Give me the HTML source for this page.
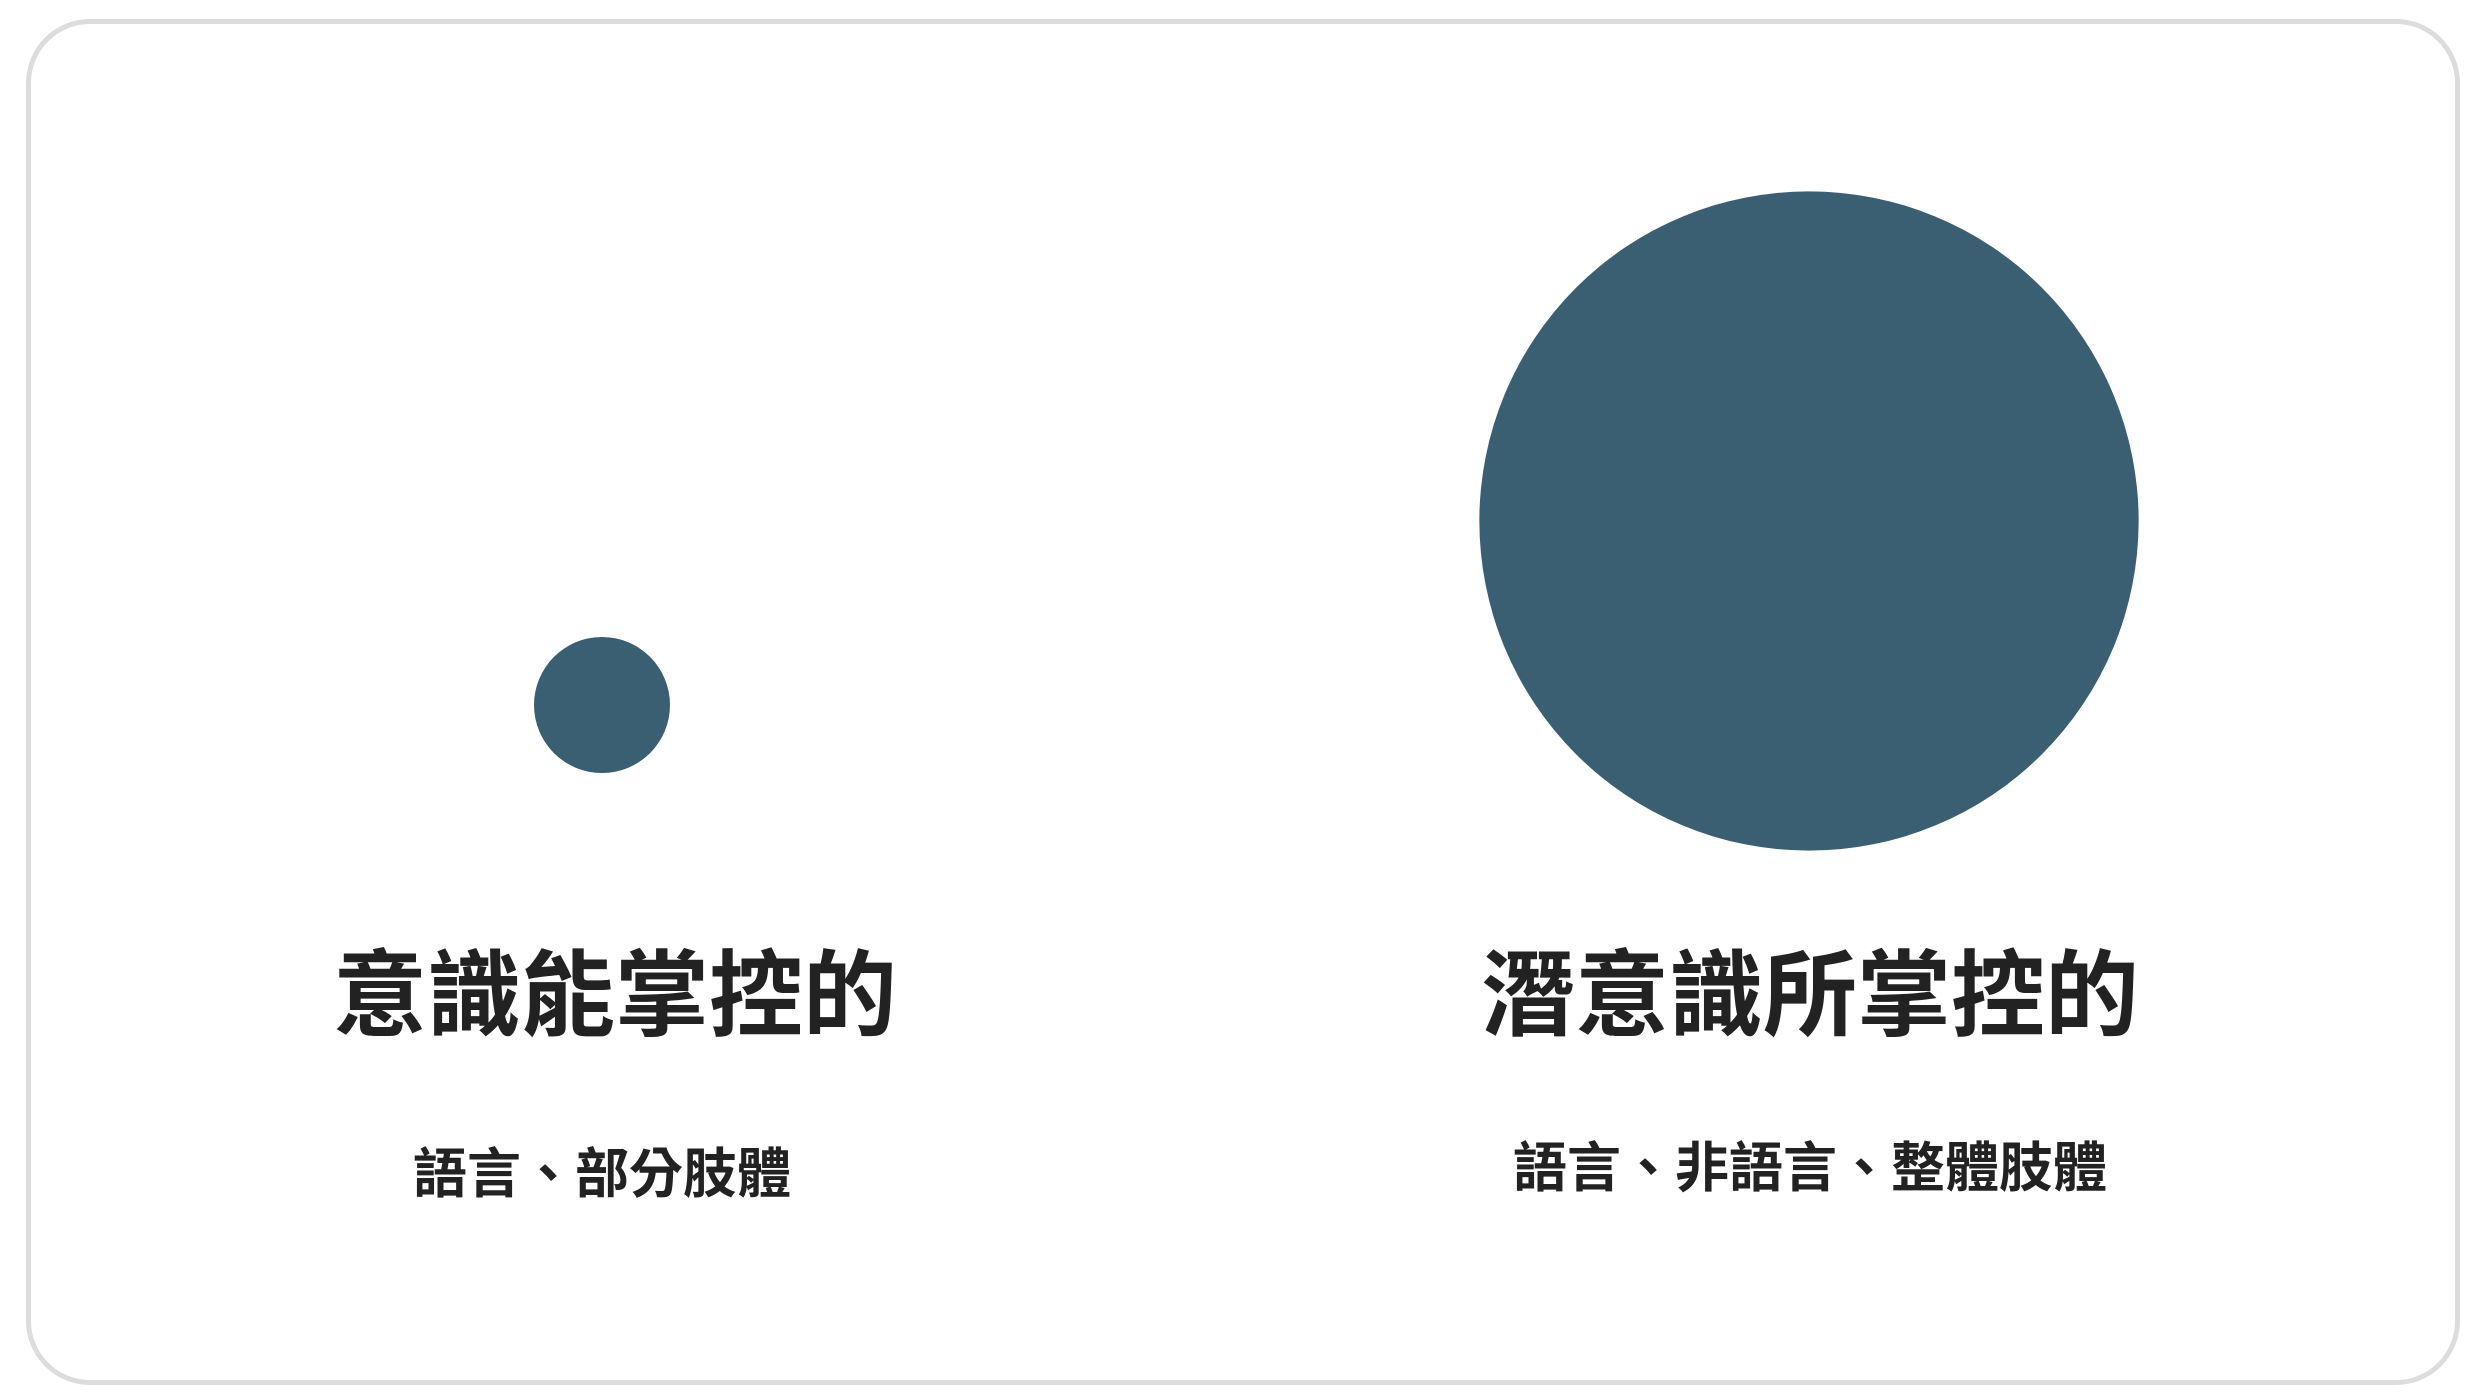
<!DOCTYPE html>
<html><head><meta charset="utf-8"><style>
html,body{margin:0;padding:0;background:#fff;}
body{width:2484px;height:1400px;position:relative;overflow:hidden;font-family:"Liberation Sans","Noto Sans CJK TC",sans-serif;}
.frame{position:absolute;left:26px;top:19px;width:2424px;height:1356px;border:5px solid #dcdcdc;border-radius:64px;}
.t{position:absolute;transform:translate(-50%,-50%);white-space:nowrap;font-weight:bold;color:#222;}
.title{font-size:94px;letter-spacing:0px;}
.sub{font-size:54px;}
</style></head><body>
<div class="frame"></div>
<svg id="chart" width="2484" height="1400" style="position:absolute;left:0;top:0"></svg>
<div class="t title" style="left:615px;top:988px">意識能掌控的</div>
<div class="t title" style="left:1810px;top:988px">潛意識所掌控的</div>
<div class="t sub" style="left:602px;top:1169px">語言、部分肢體</div>
<div class="t sub" style="left:1810px;top:1163px">語言、非語言、整體肢體</div>
<script>
const categories = ["意識能掌控的", "潛意識所掌控的"];
const values = [1, 23.5];
const centersX = [602, 1809];
const centersY = [705, 521];
const rScale = v => 68 * Math.sqrt(v);
const svg = document.getElementById('chart');
values.forEach((v, i) => {
  const c = document.createElementNS('http://www.w3.org/2000/svg', 'circle');
  c.setAttribute('cx', centersX[i]);
  c.setAttribute('cy', centersY[i]);
  c.setAttribute('r', rScale(v));
  c.setAttribute('fill', '#3a5e72');
  
  
  svg.appendChild(c);
});
</script>
</body></html>
